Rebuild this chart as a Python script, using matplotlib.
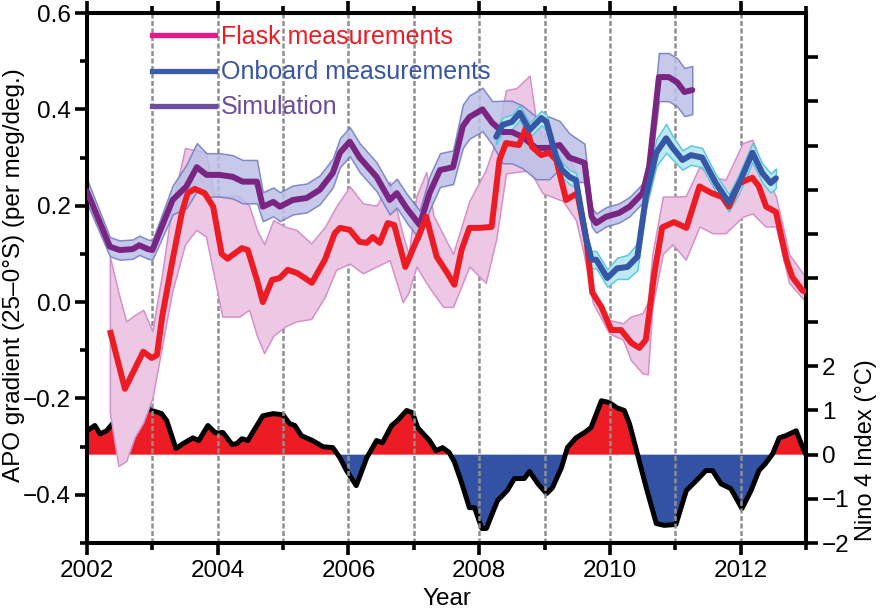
import numpy as np
import matplotlib
matplotlib.use('Agg')
import matplotlib.pyplot as plt
from matplotlib.lines import Line2D
from matplotlib.ticker import MultipleLocator, FuncFormatter

plt.rcParams['font.family'] = ['Liberation Sans', 'DejaVu Sans']

########################################################
# data
# simulation (purple line + band half width)
sim_t = [2002.0, 2002.35, 2002.5, 2002.7, 2002.8, 2002.93, 2003.0, 2003.31, 2003.52, 2003.68,
         2003.83, 2004.03, 2004.23, 2004.38, 2004.6, 2004.69, 2004.85, 2004.95, 2005.15, 2005.36,
         2005.56, 2005.76, 2005.87, 2006.02, 2006.17, 2006.43, 2006.63, 2006.74, 2006.89, 2007.09,
         2007.24, 2007.4, 2007.6, 2007.75, 2007.85, 2008.05, 2008.2, 2008.36, 2008.5, 2008.66,
         2008.87, 2009.07, 2009.23, 2009.38, 2009.61, 2009.72, 2009.79, 2009.94, 2010.14, 2010.3,
         2010.4, 2010.5, 2010.6, 2010.75, 2010.9, 2011.03, 2011.14, 2011.26]
sim_y = [0.23, 0.115, 0.108, 0.11, 0.118, 0.11, 0.108, 0.212, 0.24, 0.28,
         0.264, 0.264, 0.26, 0.25, 0.25, 0.198, 0.208, 0.198, 0.212, 0.216,
         0.233, 0.268, 0.31, 0.333, 0.30, 0.26, 0.212, 0.226, 0.195, 0.16,
         0.226, 0.274, 0.28, 0.365, 0.384, 0.40, 0.372, 0.353, 0.353, 0.343,
         0.32, 0.32, 0.326, 0.30, 0.289, 0.177, 0.164, 0.177, 0.185, 0.198,
         0.212, 0.226, 0.28, 0.467, 0.467, 0.456, 0.436, 0.44]
sim_err = [0.025, 0.02, 0.02, 0.02, 0.02, 0.02, 0.02, 0.03, 0.045, 0.05,
           0.045, 0.045, 0.045, 0.045, 0.045, 0.03, 0.03, 0.03, 0.03, 0.03,
           0.03, 0.03, 0.03, 0.03, 0.03, 0.03, 0.03, 0.03, 0.03, 0.03,
           0.035, 0.035, 0.035, 0.045, 0.045, 0.045, 0.045, 0.065, 0.065, 0.065,
           0.065, 0.065, 0.05, 0.05, 0.04, 0.02, 0.02, 0.02, 0.02, 0.02,
           0.02, 0.02, 0.03, 0.05, 0.05, 0.05, 0.05, 0.05]

# flask measurements (red line)
flask_t = [2002.35, 2002.58, 2002.86, 2002.99, 2003.07, 2003.15, 2003.3, 2003.45, 2003.54, 2003.65,
           2003.8, 2003.93, 2004.06, 2004.15, 2004.37, 2004.46, 2004.6, 2004.69, 2004.83, 2004.95,
           2005.07, 2005.22, 2005.44, 2005.64, 2005.79, 2005.87, 2006.02, 2006.17, 2006.28, 2006.37,
           2006.48, 2006.6, 2006.7, 2006.87, 2007.09, 2007.19, 2007.35, 2007.5, 2007.62, 2007.73,
           2007.85, 2008.0, 2008.19, 2008.31, 2008.41, 2008.61, 2008.72, 2008.81, 2008.95, 2009.07,
           2009.18, 2009.33, 2009.5, 2009.64, 2009.73, 2009.87, 2010.02, 2010.17, 2010.33, 2010.45,
           2010.55, 2010.68, 2010.8, 2010.98, 2011.17, 2011.37, 2011.56, 2011.72, 2011.82, 2011.98,
           2012.18, 2012.28, 2012.39, 2012.54, 2012.7, 2012.79, 2012.94, 2013.0]
flask_y = [-0.058, -0.18, -0.103, -0.116, -0.11, -0.03, 0.081, 0.185, 0.226, 0.235,
           0.226, 0.198, 0.10, 0.09, 0.112, 0.108, 0.046, 0.0, 0.046, 0.05,
           0.067, 0.06, 0.04, 0.088, 0.143, 0.154, 0.15, 0.125, 0.123, 0.135,
           0.123, 0.164, 0.16, 0.073, 0.143, 0.177, 0.094, 0.063, 0.036, 0.108,
           0.154, 0.154, 0.156, 0.295, 0.33, 0.326, 0.363, 0.322, 0.305, 0.31,
           0.295, 0.212, 0.226, 0.13, 0.02, -0.01, -0.058, -0.058, -0.085, -0.095,
           -0.078, 0.06, 0.155, 0.166, 0.154, 0.24, 0.226, 0.218, 0.198, 0.247,
           0.258, 0.24, 0.198, 0.187, 0.088, 0.052, 0.025, 0.02]

# flask band (own time points)
fband_t = [2002.35, 2002.48, 2002.6, 2002.73, 2002.86, 2003.0, 2003.15, 2003.3, 2003.5, 2003.67,
           2003.82, 2003.95, 2004.07, 2004.33, 2004.48, 2004.6, 2004.71, 2004.85, 2005.04, 2005.2,
           2005.43, 2005.64, 2005.81, 2006.02, 2006.22, 2006.43, 2006.63, 2006.83, 2006.92, 2007.04,
           2007.19, 2007.3, 2007.45, 2007.6, 2007.85, 2008.1, 2008.26, 2008.41, 2008.57, 2008.77,
           2008.87, 2008.97, 2009.28, 2009.48, 2009.6, 2009.74, 2009.99, 2010.2, 2010.32, 2010.5,
           2010.58, 2010.65, 2010.81, 2010.96, 2011.16, 2011.37, 2011.57, 2011.77, 2012.03, 2012.18,
           2012.38, 2012.54, 2012.74, 2013.0]
fband_lo = [-0.23, -0.34, -0.33, -0.28, -0.25, -0.2, -0.09, 0.02, 0.12, 0.15,
            0.136, 0.05, -0.03, -0.03, -0.016, -0.07, -0.106, -0.07, -0.05, -0.04,
            -0.035, 0.011, 0.067, 0.08, 0.06, 0.074, 0.087, 0.0, 0.02, 0.074,
            0.04, 0.018, -0.01, -0.01, 0.074, 0.04, 0.13, 0.267, 0.27, 0.274,
            0.25, 0.226, 0.21, 0.17, 0.1, -0.002, -0.065, -0.078, -0.12, -0.148,
            -0.15, -0.009, 0.1, 0.12, 0.088, 0.157, 0.143, 0.143, 0.177, 0.184,
            0.157, 0.157, 0.04, 0.0]
fband_hi = [0.095, 0.02, -0.04, -0.027, -0.016, -0.06, 0.06, 0.2, 0.32, 0.315,
            0.31, 0.22, 0.22, 0.22, 0.2, 0.15, 0.12, 0.17, 0.156, 0.15,
            0.122, 0.156, 0.198, 0.24, 0.205, 0.2, 0.25, 0.14, 0.10, 0.22,
            0.27, 0.18, 0.14, 0.10, 0.21, 0.274, 0.337, 0.44, 0.444, 0.47,
            0.378, 0.343, 0.323, 0.27, 0.15, 0.025, -0.037, -0.044, -0.03, -0.023,
            0.0, 0.1, 0.219, 0.219, 0.22, 0.281, 0.26, 0.254, 0.33, 0.337,
            0.267, 0.219, 0.10, 0.05]

# onboard measurements (blue line + band half width)
onb_t = [2008.26, 2008.36, 2008.5, 2008.62, 2008.77, 2008.95, 2009.03, 2009.18, 2009.27, 2009.38,
         2009.48, 2009.64, 2009.72, 2009.79, 2009.96, 2010.11, 2010.27, 2010.42, 2010.55, 2010.71,
         2010.86, 2010.95, 2011.11, 2011.24, 2011.41, 2011.62, 2011.82, 2011.98, 2012.18, 2012.33,
         2012.46, 2012.54]
onb_y = [0.343, 0.368, 0.374, 0.393, 0.357, 0.382, 0.374, 0.30, 0.274, 0.26,
         0.253, 0.129, 0.088, 0.088, 0.05, 0.07, 0.073, 0.094, 0.218, 0.31,
         0.34, 0.322, 0.295, 0.305, 0.30, 0.247, 0.206, 0.247, 0.31, 0.268,
         0.247, 0.257]
onb_err = [0.015, 0.015, 0.015, 0.015, 0.015, 0.015, 0.015, 0.015, 0.015, 0.015,
           0.015, 0.015, 0.018, 0.018, 0.018, 0.022, 0.025, 0.028, 0.025, 0.028,
           0.03, 0.025, 0.02, 0.02, 0.02, 0.018, 0.018, 0.02, 0.02, 0.02,
           0.02, 0.02]

# Nino 4 index (degC)
nino_t = [2002.0, 2002.12, 2002.2, 2002.3, 2002.43, 2002.53, 2002.7, 2002.86, 2002.99, 2003.14,
          2003.22, 2003.36, 2003.47, 2003.62, 2003.71, 2003.85, 2003.96, 2004.08, 2004.22, 2004.29,
          2004.37, 2004.46, 2004.57, 2004.69, 2004.85, 2005.0, 2005.1, 2005.18, 2005.28, 2005.45,
          2005.61, 2005.76, 2005.87, 2005.97, 2006.12, 2006.28, 2006.43, 2006.52, 2006.66, 2006.75,
          2006.89, 2006.98, 2007.06, 2007.24, 2007.34, 2007.44, 2007.54, 2007.62, 2007.73, 2007.85,
          2007.93, 2008.04, 2008.11, 2008.28, 2008.43, 2008.54, 2008.69, 2008.77, 2008.9, 2009.03,
          2009.12, 2009.26, 2009.35, 2009.48, 2009.61, 2009.71, 2009.87, 2009.99, 2010.11, 2010.22,
          2010.3, 2010.42, 2010.56, 2010.71, 2010.83, 2011.01, 2011.17, 2011.32, 2011.47, 2011.57,
          2011.7, 2011.85, 2012.02, 2012.16, 2012.28, 2012.38, 2012.49, 2012.59, 2012.69, 2012.85,
          2012.97, 2013.0]
nino_v = [0.54, 0.66, 0.47, 0.54, 0.77, 0.70, 0.72, 1.18, 1.0, 0.93,
          0.77, 0.14, 0.25, 0.38, 0.32, 0.66, 0.5, 0.5, 0.23, 0.25,
          0.36, 0.32, 0.59, 0.88, 0.93, 0.9, 0.7, 0.66, 0.43, 0.32,
          0.18, 0.16, -0.07, -0.36, -0.70, -0.07, 0.32, 0.27, 0.66, 0.77,
          1.0, 0.95, 0.61, 0.32, 0.09, 0.16, 0.05, -0.16, -0.63, -1.2,
          -1.2, -1.67, -1.67, -1.04, -0.81, -0.54, -0.54, -0.38, -0.66, -0.88,
          -0.75, -0.29, 0.16, 0.38, 0.5, 0.61, 1.22, 1.18, 1.06, 1.0,
          0.7, 0.02, -0.77, -1.56, -1.6, -1.58, -0.81, -0.59, -0.36, -0.36,
          -0.66, -0.77, -1.22, -0.81, -0.36, -0.2, 0.02, 0.38, 0.43, 0.54,
          0.09, 0.0]

years_grid = list(range(2003, 2013))
legend_labels = ['Flask measurements', 'Onboard measurements', 'Simulation']

########################################################
fs = 17.5
fig = plt.figure(figsize=(8.83, 6.12), dpi=100)
ax = fig.add_axes([87/883, 1-543/612, (806-87)/883, (543-13)/612])
ax2 = ax.twinx()
# main axes drawn above the nino axes
ax.set_zorder(ax2.get_zorder() + 1)
ax.patch.set_visible(False)

# Nino 4 index on right axis
nt = np.array(nino_t)
nv = np.array(nino_v)
ax2.fill_between(nt, 0, nv, where=nv >= 0, interpolate=True, color='#ED1C24', lw=0)
ax2.fill_between(nt, 0, nv, where=nv <= 0, interpolate=True, color='#3452A4', lw=0)
ax2.plot(nt, nv, color='k', lw=3.6, solid_joinstyle='round', zorder=3)

# year grid lines
for yr in years_grid:
    ax.axvline(yr, color='#8f8f8f', lw=1.8, ls=(0, (2, 1)), zorder=0.5)

# bands
ax.fill_between(fband_t, fband_lo, fband_hi, facecolor='#EDC8E4', edgecolor='#D590CB', lw=1.1, zorder=1)
sy = np.array(sim_y); se = np.array(sim_err)
ax.fill_between(sim_t, sy - se, sy + se, facecolor='#BCC0E6', edgecolor='#6F7BC2', lw=1.1, alpha=0.85, zorder=1.2)
oy = np.array(onb_y); oe = np.array(onb_err)
ax.fill_between(onb_t, oy - oe, oy + oe, facecolor='#BDEAF2', edgecolor='#5CC8DC', lw=1.1, zorder=1.4)

# lines
ax.plot(sim_t, sim_y, color='#7A2582', lw=4.3, solid_joinstyle='round', solid_capstyle='round', zorder=3)
ax.plot(flask_t, flask_y, color='#ED1C24', lw=4.3, solid_joinstyle='round', solid_capstyle='butt', zorder=4)
ax.plot(onb_t, onb_y, color='#3656A6', lw=4.3, solid_joinstyle='round', solid_capstyle='round', zorder=5)

# legend with proxy handles
handles = [Line2D([], [], color='#EC168C', lw=3.8),
           Line2D([], [], color='#3B5CAA', lw=3.8),
           Line2D([], [], color='#6C51A0', lw=3.8)]
leg = ax.legend(handles, legend_labels, loc='upper left', bbox_to_anchor=((152-87)/719, (543-25)/530),
                frameon=False, fontsize=18, handlelength=2.5, handletextpad=0.25, labelspacing=0.45,
                borderpad=0, borderaxespad=0,
                labelcolor=['#ED1C24', '#3855A5', '#6B4C9E'])

# axes limits and ticks
ax.set_xlim(2002, 2013)
ax.set_ylim(-0.5, 0.6)
ax2.set_ylim(-2, 10)

ax.xaxis.set_major_locator(MultipleLocator(2))
ax.xaxis.set_minor_locator(MultipleLocator(1))
ax.yaxis.set_major_locator(MultipleLocator(0.2))
ax.yaxis.set_minor_locator(MultipleLocator(0.1))
ax.yaxis.set_major_formatter(FuncFormatter(lambda v, p: ('%.1f' % v).replace('-', '\u2212')))

ax2.set_yticks(range(-2, 10))
ax2.set_yticklabels([('%d' % v).replace('-', '\u2212') if v <= 2 else '' for v in range(-2, 10)])

for a in (ax, ax2):
    for s in a.spines.values():
        s.set_linewidth(2.9)
ax.tick_params(which='major', direction='out', length=8.5, width=2.6, labelsize=fs, pad=3,
               top=True, right=False)
ax.tick_params(which='minor', direction='out', length=5, width=2.6, top=True, right=False)
ax.tick_params(axis='x', which='major', pad=4)
ax2.tick_params(axis='y', direction='out', length=8.5, width=2.6, labelsize=fs, pad=3)

ax.set_xlabel('Year', fontsize=fs)
ax.xaxis.set_label_coords(0.5, -0.085)
ax.set_ylabel('APO gradient (25\u20130\u00b0S) (per meg/deg.)', fontsize=fs)
ax.yaxis.set_label_coords(-0.086, 0.506)
ax2.set_ylabel('Nino 4 Index (\u00b0C)', fontsize=17)
ax2.yaxis.set_label_coords(1.068, 0.175)

fig.savefig('out.png', dpi=100)
